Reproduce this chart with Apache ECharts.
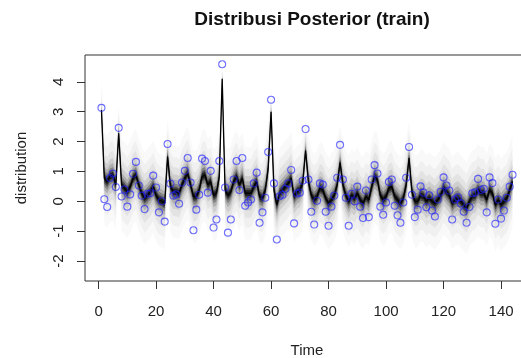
<!DOCTYPE html>
<html>
<head>
<meta charset="utf-8">
<script src="https://cdn.jsdelivr.net/npm/echarts@6/dist/echarts.min.js"></script>
<style>
html,body{margin:0;padding:0;background:#fff;}
#chart{width:521px;height:358px;}
</style>
</head>
<body>
<div id="chart"></div>
<script>
// observed values (blue circles), time = 1..144
const observed = [
3.13,0.07,-0.19,0.78,0.93,0.48,2.46,0.16,0.40,-0.18,
0.23,0.92,1.32,0.53,0.19,-0.26,0.25,0.27,0.86,0.46,
-0.37,0.00,-0.68,1.92,0.59,0.19,0.23,-0.08,0.63,1.02,
1.45,0.63,-0.97,-0.28,0.22,1.43,1.35,0.29,1.02,-0.88,
-0.61,1.35,4.59,0.46,-1.05,-0.61,0.73,1.35,0.38,1.45,
-0.15,-0.04,0.06,0.60,0.96,-0.72,-0.37,0.12,1.65,3.40,
0.60,-1.28,0.17,0.22,0.42,0.60,1.05,-0.74,0.26,0.29,
0.69,2.42,0.73,-0.35,-0.78,0.02,0.60,0.56,-0.35,-0.82,
-0.18,0.19,0.79,1.89,0.73,0.12,-0.82,0.25,0.00,0.49,
-0.18,-0.56,0.36,-0.53,0.73,1.21,0.93,-0.18,-0.45,-0.04,
0.65,0.73,-0.15,-0.47,-0.72,-0.04,0.79,1.82,0.22,-0.53,
-0.28,0.50,0.29,-0.20,0.20,-0.31,-0.51,0.06,0.32,0.80,
0.53,0.36,-0.61,0.06,0.13,-0.07,-0.35,-0.72,-0.19,0.27,
0.30,0.75,0.38,0.42,-0.37,0.80,0.61,-0.75,0.06,-0.58,
-0.31,0.12,0.49,0.89
];
// posterior median (dark core), time = 1..144
const posteriorMedian = [
3.06,0.77,0.66,0.83,0.88,0.55,2.28,0.55,0.44,0.32,
0.49,0.77,0.88,0.55,0.27,0.10,0.20,0.32,0.49,0.20,
0.05,0.00,-0.07,1.50,0.49,0.32,0.32,0.27,0.55,0.77,
0.94,0.55,0.16,0.16,0.38,0.83,0.88,0.55,0.66,0.20,
0.27,0.83,4.10,0.38,0.20,0.32,0.66,0.83,0.55,0.77,
0.27,0.27,0.27,0.49,0.66,0.16,0.10,0.38,1.10,3.00,
0.38,-0.12,0.27,0.38,0.49,0.60,0.77,0.16,0.32,0.38,
0.60,1.70,0.66,0.20,0.05,0.16,0.44,0.38,0.10,-0.07,
0.05,0.20,0.55,1.30,0.55,0.20,0.00,0.20,0.10,0.27,
0.05,-0.07,0.16,0.05,0.49,0.83,0.72,0.20,0.05,0.16,
0.44,0.49,0.16,0.05,-0.07,0.10,0.55,1.45,0.32,0.00,
0.00,0.20,0.16,0.00,0.10,0.00,-0.07,0.05,0.20,0.44,
0.32,0.20,-0.07,0.05,0.10,0.00,-0.12,-0.23,0.00,0.16,
0.20,0.38,0.27,0.27,0.05,0.38,0.27,-0.12,0.05,-0.12,
0.00,0.10,0.38,0.66
];
// half widths of posterior bands (outer to inner)
const bandHalfWidths = [1.55, 1.15, 0.82, 0.58, 0.4, 0.27, 0.17, 0.1];
// times where the posterior is narrower, and their width factor
const spikeTimes = [1, 7, 24, 43, 60, 72, 84, 108];
const spikeSpread = [0.7, 0.6, 0.8, 0.45, 0.5, 0.7, 0.8, 0.8];
// axis ticks
const xTicks = [0, 20, 40, 60, 80, 100, 120, 140];
const yTicks = [-2, -1, 0, 1, 2, 3, 4];

const times = observed.map((_, i) => i + 1);
const spread = times.map(t => {
  const k = spikeTimes.indexOf(t);
  return k >= 0 ? spikeSpread[k] : 1;
});
const bandAlphas = [0.025, 0.035, 0.05, 0.09, 0.15, 0.25, 0.4, 0.6];

const chart = echarts.init(document.getElementById('chart'), null, {renderer: 'canvas'});
const txt = '#222';
const fontFam = 'Liberation Sans, Arial, sans-serif';

chart.setOption({
  animation: false,
  backgroundColor: '#fff',
  title: {
    text: 'Distribusi Posterior (train)',
    left: 307, top: 5, textAlign: 'center',
    textStyle: {fontFamily: fontFam, fontSize: 19, fontWeight: 'bold', color: '#111'}
  },
  grid: {
    left: 85, top: 55, width: 444, height: 226,
    containLabel: false, outerBoundsMode: 'none',
    show: true, borderColor: '#333', borderWidth: 1, backgroundColor: 'transparent'
  },
  xAxis: {
    type: 'value', min: -4.72, max: 149.72,
    name: 'Time', nameLocation: 'middle', nameGap: 62,
    nameTextStyle: {fontFamily: fontFam, fontSize: 15, color: txt},
    axisLine: {show: false, onZero: false},
    axisTick: {show: true, customValues: xTicks, length: 8, lineStyle: {color: '#333', width: 1}},
    axisLabel: {customValues: xTicks, margin: 23, fontFamily: fontFam, fontSize: 15, color: txt},
    splitLine: {show: false}
  },
  yAxis: {
    type: 'value', min: -2.67, max: 4.9,
    name: 'distribution', nameLocation: 'middle', nameGap: 56, nameRotate: 90,
    nameTextStyle: {fontFamily: fontFam, fontSize: 15, color: txt},
    axisLine: {show: false, onZero: false},
    axisTick: {show: true, customValues: yTicks, length: 8, lineStyle: {color: '#333', width: 1}},
    axisLabel: {customValues: yTicks, rotate: 90, margin: 19, fontFamily: fontFam, fontSize: 15, color: txt},
    splitLine: {show: false}
  },
  series: [
    {
      type: 'custom',
      silent: true,
      clip: true,
      data: bandHalfWidths.map((w, k) => [k, 0]),
      encode: {x: 0, y: 1},
      renderItem: function (params, api) {
        const k = params.dataIndex;
        const w = bandHalfWidths[k];
        const up = [], lo = [];
        for (let i = 0; i < times.length; i++) {
          up.push(api.coord([times[i], posteriorMedian[i] + w * spread[i]]));
          lo.push(api.coord([times[i], posteriorMedian[i] - w * spread[i]]));
        }
        const pts = up.concat(lo.reverse());
        return {
          type: 'polygon',
          shape: {points: pts},
          style: {fill: 'rgba(0,0,0,' + bandAlphas[k] + ')', stroke: null}
        };
      },
      z: 1
    },
    {
      type: 'line',
      data: times.map((t, i) => [t, posteriorMedian[i]]),
      showSymbol: false,
      lineStyle: {color: '#000', width: 1.3},
      silent: true,
      z: 2
    },
    {
      type: 'scatter',
      data: times.map((t, i) => [t, observed[i]]),
      symbol: 'circle',
      symbolSize: 7,
      itemStyle: {color: 'rgba(0,0,0,0)', borderColor: 'rgba(30,30,255,0.8)', borderWidth: 1.1},
      silent: true,
      z: 3
    }
  ]
});
</script>
</body>
</html>
